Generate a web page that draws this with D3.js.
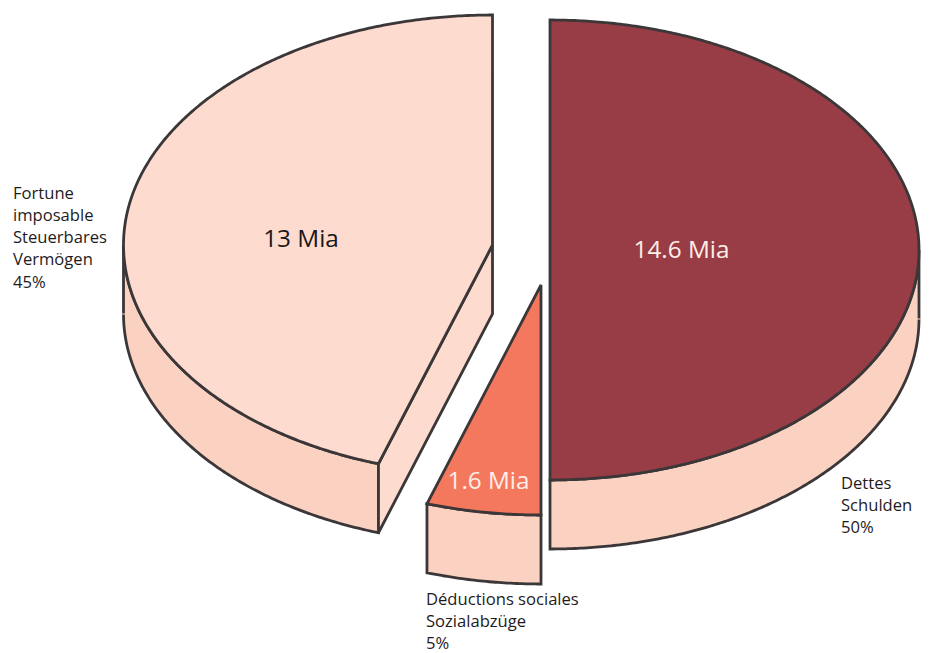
<!DOCTYPE html>
<html>
<head>
<meta charset="utf-8">
<script src="https://cdn.jsdelivr.net/npm/d3@7"></script>
<style>
  html, body { margin: 0; padding: 0; background: #fff; }
  svg { display: block; }
  text { font-family: "Open Sans", sans-serif; }
</style>
</head>
<body>
<div id="pie3d"></div>
<script>
// ===== data =====
var slices = ["Dettes", "Deductions", "Fortune"];
var shares = [50, 5, 45];
var amounts = ["14.6 Mia", "1.6 Mia", "13 Mia"];
var captions = [
  ["Dettes", "Schulden", "50%"],
  ["Déductions sociales", "Sozialabzüge", "5%"],
  ["Fortune", "imposable", "Steuerbares", "Vermögen", "45%"]
];

// ===== layout =====
var w = 931;
var h = 653;
var rx = 369;      // half width of the ellipse
var ry = 230;      // half height of the ellipse
var depth = 69;    // thickness of the cake
var lineGap = 22.3;
var strokeW = 2.8;

var centers = [[550, 250], [541, 285], [492.5, 245]];
var topFills = ["#983d45", "#f4785d", "#fedbcf"];
var wallFill = "#fbd2c1";
var faceFill = "#fedbcf";
var ink = "#3b3739";
var amountPos = [[681.5, 249], [488.5, 480], [301, 238]];
var amountFills = ["#fdeee8", "#fdeee8", "#1a1718"];
var captionPos = [[841, 488.5], [426, 604.5], [13, 198.5]];

var svg = d3.select("#pie3d")
            .append("svg")
            .attr("width", w)
            .attr("height", h);

var pie = d3.pie()
            .sort(null)
            .value(function(d) { return d; });

var arcsData = pie(shares);

// the unit circle squashed to an ellipse
var sx = d3.scaleLinear().domain([-1, 1]).range([-rx, rx]);
var sy = d3.scaleLinear().domain([-1, 1]).range([-ry, ry]);

var line = d3.line();

function rim(c, a, drop) {
  return [c[0] + sx(Math.sin(a)), c[1] + sy(-Math.cos(a)) + drop];
}

function sweep(c, a0, a1, drop) {
  var n = Math.max(2, Math.ceil(Math.abs(a1 - a0) * 120));
  return d3.range(n + 1).map(function(i) {
    return rim(c, a0 + (a1 - a0) * i / n, drop);
  });
}

var groups = svg.selectAll("g.slice")
                .data(arcsData)
                .enter()
                .append("g")
                .attr("class", "slice");

// outer wall, only the part below the widest point shows
groups.each(function(d, i) {
  var c = centers[i];
  var g = d3.select(this);
  var a0 = Math.max(d.startAngle, Math.PI / 2);
  var a1 = Math.min(d.endAngle, Math.PI * 1.5);

  g.append("path")
   .attr("d", line(sweep(c, a0, a1, 0).concat(sweep(c, a1, a0, depth))) + "Z")
   .attr("fill", wallFill)
   .attr("stroke", ink)
   .attr("stroke-width", strokeW)
   .attr("stroke-linejoin", "miter");

  // little pale seam where the wall meets its widest point
  [Math.PI / 2, Math.PI * 1.5].forEach(function(a) {
    if (a >= d.startAngle && a <= d.endAngle) {
      var s = rim(c, a, depth);
      g.append("path")
       .attr("d", line([[s[0] - 2, s[1]], [s[0] + 2, s[1]]]))
       .attr("stroke", wallFill)
       .attr("stroke-width", 1);
    }
  });

  // cut face that looks towards the viewer (Fortune slice only)
  if (d.startAngle > Math.PI && d.endAngle > Math.PI * 1.5) {
    var p = rim(c, d.startAngle, 0);
    var q = [p[0], p[1] + depth];
    g.append("path")
     .attr("d", line([[c[0], c[1]], p, q, [c[0], c[1] + depth]]) + "Z")
     .attr("fill", faceFill)
     .attr("stroke", ink)
     .attr("stroke-width", strokeW);
  }

  // top of the slice
  var top = [[c[0], c[1]]].concat(sweep(c, d.startAngle, d.endAngle, 0));
  g.append("path")
   .attr("d", line(top) + "Z")
   .attr("fill", topFills[i])
   .attr("stroke", ink)
   .attr("stroke-width", strokeW)
   .attr("stroke-linejoin", "miter");
});

// amounts on the slices
svg.selectAll("text.amount")
   .data(amounts)
   .enter()
   .append("text")
   .attr("class", "amount")
   .attr("x", function(d, i) { return amountPos[i][0]; })
   .attr("y", function(d, i) { return amountPos[i][1]; })
   .attr("dy", "0.36em")
   .attr("text-anchor", "middle")
   .attr("font-size", "24.3px")
   .attr("fill", function(d, i) { return amountFills[i]; })
   .text(function(d) { return d; });

// captions outside the cake
var caps = svg.selectAll("text.caption")
              .data(captions)
              .enter()
              .append("text")
              .attr("class", "caption")
              .attr("font-size", "16.6px")
              .attr("fill", "#1f1b1c")
              .attr("transform", function(d, i) {
                return "translate(" + captionPos[i][0] + "," + captionPos[i][1] + ")";
              });

caps.selectAll("tspan")
    .data(function(d) { return d; })
    .enter()
    .append("tspan")
    .attr("x", 0)
    .attr("y", function(d, i) { return i * lineGap; })
    .text(function(d) { return d; });
</script>
</body>
</html>
